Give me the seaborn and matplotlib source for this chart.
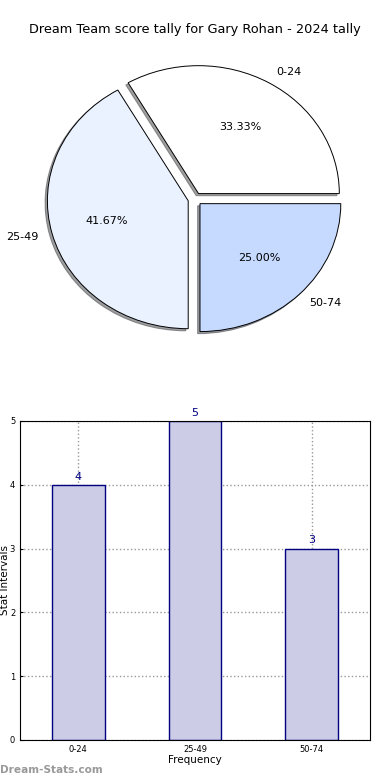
import matplotlib
matplotlib.use("Agg")
import matplotlib.pyplot as plt
import seaborn as sns
import pandas as pd

categories = ["0-24", "25-49", "50-74"]
counts = [4, 5, 3]
pie_colors = ["#FFFFFF", "#EAF1FF", "#C6D9FF"]
title = "Dream Team score tally for Gary Rohan - 2024 tally"

plt.rcParams['font.family'] = ['DejaVu Sans']
fig = plt.figure(figsize=(3.9, 7.8), dpi=100)

# Pie chart
ax1 = fig.add_axes([0.0487, 0.5397, 0.9026, 0.410])
wedges, texts, autotexts = ax1.pie(counts, labels=categories, colors=pie_colors,
                                   explode=[0.05] * 3,
                                   shadow={'ox': -0.012, 'oy': -0.012, 'shade': 0.75},
                                   autopct='%1.2f%%',
                                   wedgeprops=dict(edgecolor='black', linewidth=0.7),
                                   textprops=dict(fontsize=8))
ax1.set_aspect('auto')
ax1.set_xlim(-1.25, 1.25)
ax1.set_ylim(-1.25, 1.25)
fig.text(0.5, 1 - 30 / 780, title, ha='center', va='center', fontsize=9.3)

# Bar chart
ax2 = fig.add_axes([0.0513, 0.0513, 0.897, 0.409])
df = pd.DataFrame({"interval": categories, "count": counts})
sns.barplot(data=df, x="interval", y="count", ax=ax2, color="#CCCCE6",
            edgecolor="#000080", linewidth=1.0, width=0.45, saturation=1)
ax2.set_xlim(-0.5, 2.5)
ax2.set_ylim(0, 5)
ax2.set_yticks(range(0, 6))
ax2.tick_params(labelsize=6, length=2, direction='in')
ax2.grid(True, linestyle=':', color='#999999', linewidth=1.0)
ax2.set_axisbelow(True)
ax2.set_xlabel("Frequency", fontsize=7.5, labelpad=1)
ax2.set_ylabel("Stat Intervals", fontsize=7.5, labelpad=0)
for i, v in enumerate(counts):
    ax2.text(i, v + 0.05, str(v), ha='center', va='bottom', fontsize=8, color='#000080')

fig.text(0.0, 1 - 770 / 780, "Dream-Stats.com", ha='left', va='center',
         fontsize=7.6, fontweight='bold', color='#999999')

fig.savefig("out.png", dpi=100, facecolor='white')
